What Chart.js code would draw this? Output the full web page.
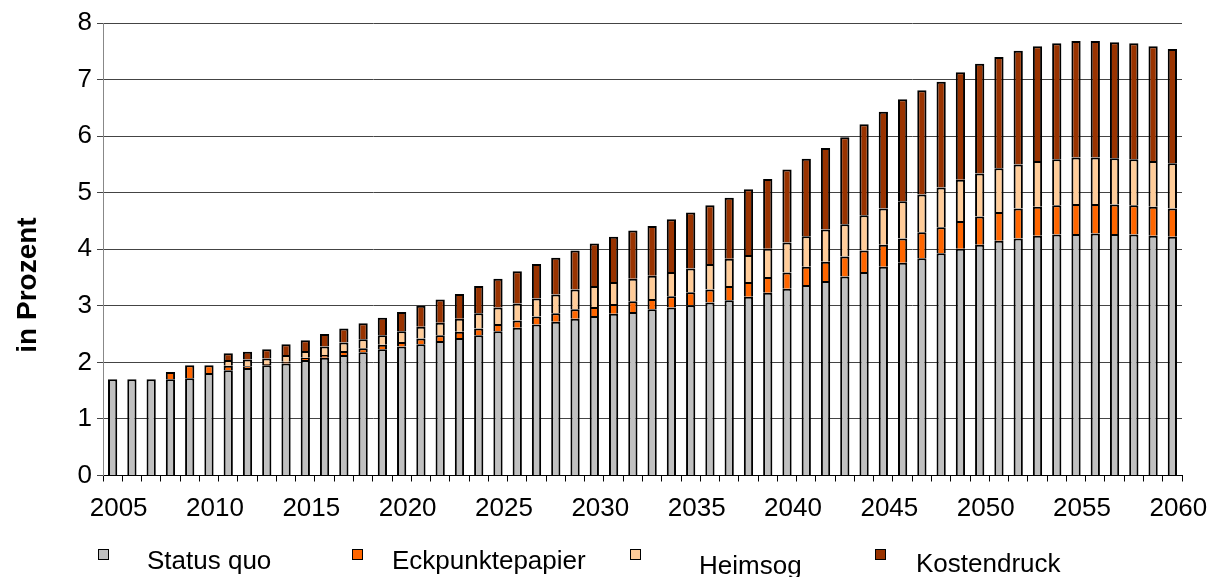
<!DOCTYPE html>
<html>
<head>
<meta charset="utf-8">
<script src="https://cdn.jsdelivr.net/npm/chart.js@4/dist/chart.umd.min.js"></script>
<style>
  html, body { margin: 0; padding: 0; background: #fff; }
  #wrap { width: 1216px; height: 577px; }
</style>
</head>
<body>
<div id="wrap"><canvas id="c" width="1216" height="577"></canvas></div>
<script>
// Jahre 2005-2060
const years = [2005,2006,2007,2008,2009,2010,2011,2012,2013,2014,
  2015,2016,2017,2018,2019,2020,2021,2022,2023,2024,
  2025,2026,2027,2028,2029,2030,2031,2032,2033,2034,
  2035,2036,2037,2038,2039,2040,2041,2042,2043,2044,
  2045,2046,2047,2048,2049,2050,2051,2052,2053,2054,
  2055,2056,2057,2058,2059,2060];

// Beitragssatzanteile in Prozent (gestapelt)
const statusQuo = [1.70,1.70,1.70,1.70,1.72,1.81,1.86,1.90,1.95,1.98,
  2.04,2.08,2.13,2.18,2.23,2.28,2.32,2.38,2.43,2.48,
  2.55,2.61,2.67,2.72,2.77,2.82,2.86,2.89,2.94,2.97,
  3.01,3.06,3.10,3.16,3.23,3.30,3.37,3.44,3.52,3.60,
  3.69,3.76,3.84,3.93,4.01,4.08,4.15,4.19,4.24,4.26,
  4.27,4.28,4.27,4.26,4.24,4.22];

const eckpunktepapier = [null,null,null,0.13,0.23,0.14,0.08,0.03,0.02,0.03,
  0.04,0.05,0.07,0.07,0.08,0.08,0.10,0.10,0.11,0.12,
  0.13,0.13,0.14,0.15,0.17,0.16,0.17,0.19,0.18,0.20,
  0.23,0.23,0.25,0.26,0.28,0.29,0.32,0.34,0.35,0.38,
  0.39,0.43,0.46,0.46,0.49,0.50,0.51,0.53,0.51,0.52,
  0.53,0.52,0.52,0.52,0.51,0.50];

const heimsog = [null,null,null,null,null,null,0.10,0.12,0.10,0.12,
  0.12,0.15,0.15,0.16,0.17,0.19,0.21,0.22,0.23,0.27,
  0.29,0.30,0.32,0.33,0.35,0.37,0.39,0.40,0.41,0.43,
  0.42,0.45,0.48,0.48,0.50,0.53,0.54,0.57,0.57,0.62,
  0.64,0.66,0.67,0.70,0.73,0.76,0.77,0.78,0.81,0.81,
  0.82,0.82,0.82,0.81,0.81,0.80];

const kostendruck = [null,null,null,null,null,null,0.12,0.14,0.16,0.19,
  0.19,0.22,0.25,0.28,0.31,0.34,0.37,0.41,0.44,0.48,
  0.51,0.57,0.61,0.65,0.69,0.75,0.80,0.85,0.88,0.93,
  0.99,1.04,1.08,1.16,1.23,1.29,1.37,1.44,1.54,1.61,
  1.71,1.80,1.84,1.87,1.90,1.94,1.97,2.01,2.03,2.05,
  2.06,2.06,2.05,2.05,2.03,2.02];

const seriesNames = ['Status quo', 'Eckpunktepapier', 'Heimsog', 'Kostendruck'];
const seriesColors = ['#C0C0C0', '#FF6600', '#FFCC99', '#993300'];
const yTicks = [0,1,2,3,4,5,6,7,8];
const axisTitle = 'in Prozent';

const FONT = '"Liberation Sans", Arial, Helvetica, sans-serif';

const seriesValues = [statusQuo, eckpunktepapier, heimsog, kostendruck];
const datasets = seriesValues.map((vals, i) => ({
  label: seriesNames[i],
  data: vals,
  backgroundColor: seriesColors[i],
  borderColor: '#000',
  borderWidth: 2,
  barPercentage: 0.48,
  categoryPercentage: 1.0,
  stack: 'beitrag'
}));

// rotated axis title and a free-standing legend row
const decorations = {
  id: 'decorations',
  afterDraw(chart) {
    const ctx = chart.ctx;
    ctx.save();
    ctx.fillStyle = '#000';
    ctx.font = 'bold 28px ' + FONT;
    ctx.textAlign = 'center';
    ctx.textBaseline = 'middle';
    ctx.translate(28, 285);
    ctx.rotate(-Math.PI / 2);
    ctx.fillText(axisTitle, 0, 0);
    ctx.restore();

    const slots = [
      { box: 98,  text: 147, base: 569 },
      { box: 352, text: 392, base: 569 },
      { box: 630, text: 699, base: 574 },
      { box: 875, text: 916, base: 572 }
    ];
    ctx.save();
    ctx.font = '26px ' + FONT;
    ctx.textAlign = 'left';
    ctx.textBaseline = 'alphabetic';
    chart.data.datasets.forEach((ds, i) => {
      const s = slots[i];
      ctx.fillStyle = ds.backgroundColor;
      ctx.fillRect(s.box, 549, 10, 10);
      ctx.strokeStyle = '#000';
      ctx.lineWidth = 1;
      ctx.strokeRect(s.box + 0.5, 549.5, 10, 10);
      ctx.fillStyle = '#000';
      ctx.fillText(ds.label, s.text, s.base);
    });
    ctx.restore();
  }
};

new Chart(document.getElementById('c'), {
  type: 'bar',
  data: { labels: years, datasets },
  plugins: [decorations],
  options: {
    responsive: false,
    animation: false,
    devicePixelRatio: 1,
    layout: { padding: { top: 23, right: 34, left: 0, bottom: 0 } },
    plugins: {
      legend: { display: false },
      tooltip: { enabled: false }
    },
    scales: {
      x: {
        stacked: true,
        afterFit(scale) { scale.height = 101.5; },
        grid: {
          display: true,
          drawOnChartArea: false,
          drawTicks: true,
          offset: true,
          tickLength: 6,
          tickColor: '#000'
        },
        border: { color: '#000', width: 1 },
        ticks: {
          autoSkip: false,
          maxRotation: 0,
          minRotation: 0,
          labelOffset: 6,
          padding: 12,
          color: '#000',
          font: { family: FONT, size: 26 },
          callback(value, index) {
            const y = years[index];
            return y % 5 === 0 ? String(y) : '';
          }
        }
      },
      y: {
        stacked: true,
        min: 0,
        max: 8,
        afterFit(scale) { scale.width = 103; },
        afterBuildTicks(scale) { scale.ticks = yTicks.map(v => ({ value: v })); },
        grid: {
          color: '#444',
          tickColor: '#444',
          tickLength: 6,
          lineWidth: 1
        },
        border: { color: '#888', width: 1 },
        ticks: {
          padding: 5,
          color: '#000',
          font: { family: FONT, size: 26 }
        }
      }
    }
  }
});
</script>
</body>
</html>
